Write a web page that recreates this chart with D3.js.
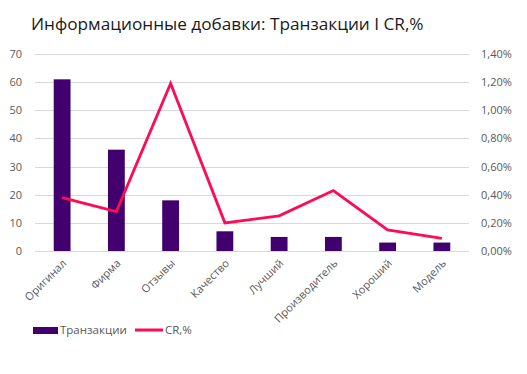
<!DOCTYPE html>
<html>
<head>
<meta charset="utf-8">
<script src="https://cdn.jsdelivr.net/npm/d3@7"></script>
<style>
  body { margin: 0; background: #fff; }
  svg text { font-family: "Open Sans", "Noto Sans", sans-serif; }
  .grid line { stroke: #d9d9d9; stroke-width: 1; }
  .axis text { fill: #595959; font-size: 11px; }
</style>
</head>
<body>
<div id="chart"></div>
<script>
// data
const categories = ["Оригинал", "Фирма", "Отзывы", "Качество", "Лучший", "Производитель", "Хороший", "Модель"];
const transactions = [61, 36, 18, 7, 5, 5, 3, 3];
const crValues = [0.38, 0.28, 1.19, 0.20, 0.25, 0.43, 0.15, 0.09];
const leftTicks = [0, 10, 20, 30, 40, 50, 60, 70];
const rightTicks = [0, 0.2, 0.4, 0.6, 0.8, 1.0, 1.2, 1.4];

const width = 527, height = 374;
const margin = {left: 35, right: 58, top: 54, bottom: 123};

const svg = d3.select("#chart").append("svg")
    .attr("width", width)
    .attr("height", height);

// title
svg.append("text")
    .attr("x", 31)
    .attr("y", 30)
    .attr("font-size", 17.2)
    .attr("fill", "#1a1a1a")
    .text("Информационные добавки: Транзакции I CR,%");

const x = d3.scaleBand()
    .domain(categories)
    .range([margin.left, width - margin.right])
    .paddingInner(0.69)
    .paddingOuter(0.345);

const yLeft = d3.scaleLinear().domain([0, 70]).range([height - margin.bottom, margin.top]);
const yRight = d3.scaleLinear().domain([0, 1.4]).range([height - margin.bottom, margin.top]);

// gridlines
svg.append("g").attr("class", "grid")
    .selectAll("line")
    .data(leftTicks)
    .join("line")
    .attr("x1", margin.left)
    .attr("x2", width - margin.right)
    .attr("y1", d => Math.round(yLeft(d)) + 0.5)
    .attr("y2", d => Math.round(yLeft(d)) + 0.5);

// left axis
const leftAxis = svg.append("g").attr("class", "axis")
    .attr("transform", `translate(${margin.left - 13},0)`)
    .call(d3.axisLeft(yLeft).tickValues(leftTicks).tickSize(0).tickPadding(0));
leftAxis.select(".domain").remove();

// right axis
const fmtPct = d => d.toFixed(2).replace(".", ",") + "%";
const rightAxis = svg.append("g").attr("class", "axis")
    .attr("transform", `translate(${width - margin.right + 12},0)`)
    .call(d3.axisRight(yRight).tickValues(rightTicks).tickFormat(fmtPct).tickSize(0).tickPadding(0));
rightAxis.select(".domain").remove();

// bars
svg.append("g")
    .selectAll("rect")
    .data(transactions)
    .join("rect")
    .attr("x", (d, i) => x(categories[i]))
    .attr("width", x.bandwidth())
    .attr("y", d => yLeft(d))
    .attr("height", d => yLeft(0) - yLeft(d))
    .attr("fill", "#41006e");

// CR line
const line = d3.line()
    .x((d, i) => x(categories[i]) + x.bandwidth() / 2)
    .y(d => yRight(d));

svg.append("path")
    .datum(crValues)
    .attr("d", line)
    .attr("fill", "none")
    .attr("stroke", "#ff0a54")
    .attr("stroke-width", 2.8)
    .attr("stroke-linejoin", "miter");

// x labels
const xAxis = svg.append("g").attr("class", "axis")
    .attr("transform", `translate(0,${height - margin.bottom})`)
    .call(d3.axisBottom(x).tickSize(0).tickPadding(0));
xAxis.select(".domain").remove();
xAxis.selectAll("text")
    .attr("font-size", 12)
    .attr("text-anchor", "end")
    .attr("dy", 0)
    .attr("y", 0)
    .attr("transform", "translate(5,13) rotate(-45)");

// legend
const legend = svg.append("g");
legend.append("rect")
    .attr("x", 33).attr("y", 327)
    .attr("width", 25).attr("height", 7)
    .attr("fill", "#41006e");
legend.append("text")
    .attr("x", 60).attr("y", 334)
    .attr("font-size", 11.5).attr("fill", "#595959")
    .text("Транзакции");
legend.append("line")
    .attr("x1", 135).attr("x2", 163)
    .attr("y1", 330).attr("y2", 330)
    .attr("stroke", "#ff0a54").attr("stroke-width", 3);
legend.append("text")
    .attr("x", 165).attr("y", 334)
    .attr("font-size", 11.5).attr("fill", "#595959")
    .text("CR,%");
</script>
</body>
</html>
